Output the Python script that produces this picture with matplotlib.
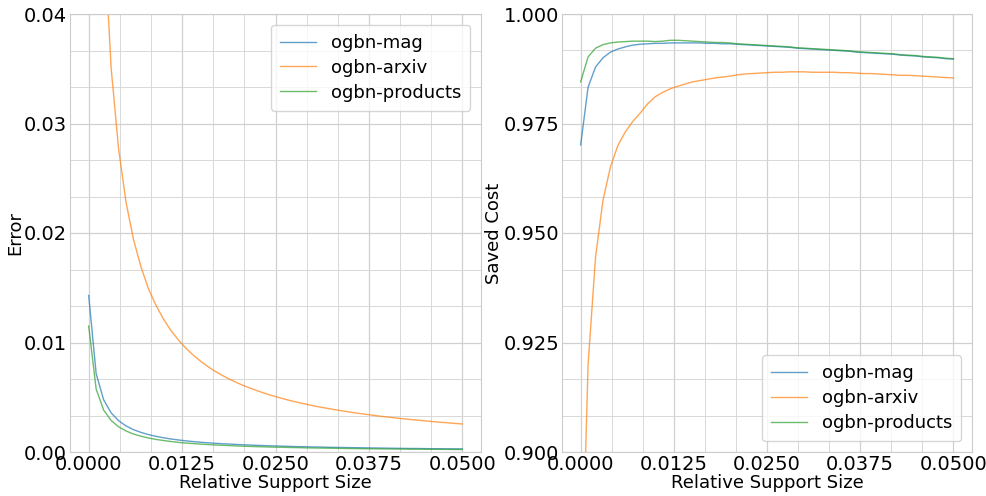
import matplotlib
matplotlib.use("Agg")
import matplotlib.pyplot as plt
from matplotlib.ticker import AutoMinorLocator, MultipleLocator, FormatStrFormatter

# relative support size (x axis), one point per 0.001
support = [i / 1000 for i in range(51)]

# error curves
err_mag = [0.0143, 0.00715, 0.00477, 0.00358, 0.00286, 0.00238, 0.00204, 0.00179, 0.00159, 0.00143,
           0.00130, 0.00119, 0.00110, 0.00102, 0.00095, 0.00089, 0.00084, 0.00079, 0.00075, 0.00072,
           0.00068, 0.00065, 0.00062, 0.00060, 0.00057, 0.00055, 0.00053, 0.00051, 0.00049, 0.00048,
           0.00046, 0.00045, 0.00043, 0.00042, 0.00041, 0.00040, 0.00039, 0.00038, 0.00037, 0.00036,
           0.00035, 0.00034, 0.00033, 0.00032, 0.00032, 0.00031, 0.00030, 0.00030, 0.00029, 0.00029,
           0.00028]
err_arxiv = [0.186, 0.0765, 0.0481, 0.0351, 0.0277, 0.0228, 0.0194, 0.0169, 0.0149, 0.0134,
             0.01215, 0.0111, 0.01024, 0.00949, 0.00884, 0.00828, 0.00778, 0.00734, 0.00695, 0.00660,
             0.00628, 0.00599, 0.00573, 0.00549, 0.00526, 0.00506, 0.00487, 0.00469, 0.00453, 0.00438,
             0.00423, 0.00410, 0.00398, 0.00386, 0.00375, 0.00364, 0.00354, 0.00345, 0.00336, 0.00327,
             0.00319, 0.00312, 0.00304, 0.00297, 0.00291, 0.00284, 0.00278, 0.00272, 0.00267, 0.00261,
             0.00256]
err_products = [0.0115, 0.00575, 0.00383, 0.00288, 0.00230, 0.00192, 0.00164, 0.00144, 0.00128, 0.00115,
                0.00105, 0.00096, 0.00088, 0.00082, 0.00077, 0.00072, 0.00068, 0.00064, 0.00061, 0.00058,
                0.00055, 0.00052, 0.00050, 0.00048, 0.00046, 0.00044, 0.00043, 0.00041, 0.00040, 0.00038,
                0.00037, 0.00036, 0.00035, 0.00034, 0.00033, 0.00032, 0.00031, 0.00030, 0.00029, 0.00029,
                0.00028, 0.00027, 0.00027, 0.00026, 0.00026, 0.00025, 0.00025, 0.00024, 0.00024, 0.00023,
                0.00023]

# saved cost curves
cost_mag = [0.9701, 0.9833, 0.9879, 0.9900, 0.9913, 0.9920, 0.9925, 0.9929, 0.9931, 0.9932,
            0.9933, 0.9933, 0.9934, 0.9934, 0.9934, 0.9934, 0.9934, 0.9933, 0.9933, 0.9932,
            0.9932, 0.9931, 0.9930, 0.9929, 0.9928, 0.9927, 0.9926, 0.9925, 0.9924, 0.9922,
            0.9921, 0.9920, 0.9919, 0.9918, 0.9917, 0.9916, 0.9915, 0.9913, 0.9912, 0.9911,
            0.9910, 0.9909, 0.9908, 0.9906, 0.9905, 0.9904, 0.9902, 0.9901, 0.9900, 0.9898,
            0.9897]
cost_arxiv = [0.859, 0.920, 0.9445, 0.9575, 0.9651, 0.9700, 0.9731, 0.9755, 0.9774, 0.9795,
              0.9811, 0.9821, 0.9829, 0.9835, 0.9840, 0.9845, 0.9848, 0.9851, 0.9854, 0.9856,
              0.9858, 0.9861, 0.9863, 0.9864, 0.9865, 0.9866, 0.9867, 0.9867, 0.9868, 0.9868,
              0.9868, 0.9867, 0.9867, 0.9867, 0.9867, 0.9866, 0.9866, 0.9865, 0.9864, 0.9864,
              0.9863, 0.9862, 0.9861, 0.9860, 0.9860, 0.9859, 0.9858, 0.9857, 0.9856, 0.9855,
              0.9854]
cost_products = [0.9845, 0.9902, 0.9922, 0.9930, 0.9934, 0.9936, 0.9937, 0.9938, 0.9938, 0.9938,
                 0.9937, 0.9938, 0.9940, 0.9940, 0.9939, 0.9938, 0.9937, 0.9936, 0.9935, 0.9935,
                 0.9934, 0.9932, 0.9931, 0.9930, 0.9929, 0.9928, 0.9927, 0.9926, 0.9925, 0.9923,
                 0.9922, 0.9921, 0.9920, 0.9919, 0.9918, 0.9917, 0.9916, 0.9914, 0.9913, 0.9912,
                 0.9911, 0.9910, 0.9909, 0.9907, 0.9906, 0.9905, 0.9903, 0.9902, 0.9901, 0.9899,
                 0.9898]

labels = ["ogbn-mag", "ogbn-arxiv", "ogbn-products"]

plt.rcParams["font.family"] = "DejaVu Sans"
fig = plt.figure(figsize=(9.86, 4.96), dpi=100)
ax1 = fig.add_axes([70 / 986, 44 / 496, 411 / 986, 438 / 496])
ax2 = fig.add_axes([562 / 986, 44 / 496, 410 / 986, 438 / 496])

for y, lab in zip([err_mag, err_arxiv, err_products], labels):
    ax1.plot(support, y, lw=1.0, alpha=0.7, label=lab)
for y, lab in zip([cost_mag, cost_arxiv, cost_products], labels):
    ax2.plot(support, y, lw=1.0, alpha=0.7, label=lab)

ax1.set_ylim(0, 0.04)
ax1.yaxis.set_major_locator(MultipleLocator(0.01))
ax1.yaxis.set_major_formatter(FormatStrFormatter("%.2f"))
ax1.set_ylabel("Error", fontsize=13, labelpad=0)

ax2.set_ylim(0.9, 1.0)
ax2.yaxis.set_major_locator(MultipleLocator(0.025))
ax2.yaxis.set_major_formatter(FormatStrFormatter("%.3f"))
ax2.set_ylabel("Saved Cost", fontsize=13, labelpad=0)

for ax in (ax1, ax2):
    ax.xaxis.set_major_locator(MultipleLocator(0.0125))
    ax.xaxis.set_major_formatter(FormatStrFormatter("%.4f"))
    ax.xaxis.set_minor_locator(AutoMinorLocator(3))
    ax.yaxis.set_minor_locator(AutoMinorLocator(3))
    ax.grid(which="major", color="#d0d0d0", lw=0.9)
    ax.grid(which="minor", color="#d8d8d8", lw=0.7)
    ax.set_axisbelow(True)
    ax.tick_params(which="both", length=0, labelsize=14, pad=2)
    for s in ax.spines.values():
        s.set_color("#cccccc")
    ax.set_xlabel("Relative Support Size", fontsize=13, labelpad=0)

ax1.legend(loc="upper right", fontsize=13, borderpad=0.5, handlelength=2.0, labelspacing=0.38,
           borderaxespad=0.6)
ax2.legend(loc="lower right", fontsize=13, borderpad=0.5, handlelength=2.0, labelspacing=0.38,
           borderaxespad=0.6)

fig.savefig("out.png", dpi=100)
